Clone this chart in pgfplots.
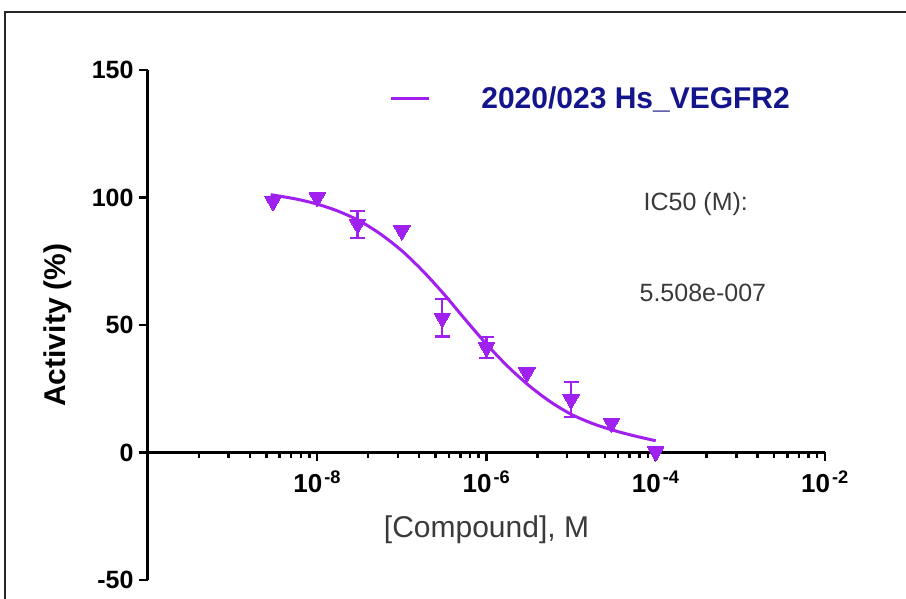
\documentclass[border=0pt]{standalone}
\usepackage{pgfplots}
\pgfplotsset{compat=1.18}
\usepackage{fontspec}
\setmainfont{Liberation Sans}
\definecolor{prismpurple}{HTML}{A020F0}
\definecolor{legnavy}{HTML}{14148C}
\definecolor{txtgrey}{HTML}{3A3A3A}
\begin{document}
\begin{tikzpicture}[x=1pt,y=1pt]
\useasboundingbox (0,0) rectangle (906,599);
\draw[line width=2pt, black!85] (5,-2) -- (5,587) -- (908,587);
\begin{axis}[
  at={(148pt,19pt)}, anchor=south west,
  scale only axis, width=677pt, height=510pt,
  xmode=log, xmin=1e-10, xmax=1e-2, ymin=-50, ymax=150,
  axis x line=middle, axis y line=left,
  axis line style={-, line width=3pt, black},
  hide obscured x ticks=false, hide obscured y ticks=false,
  clip=false,
  tick align=outside,
  major tick length=9pt, minor tick length=5.5pt,
  every tick/.style={line width=2.5pt, black},
  xtick={1e-8,1e-6,1e-4,1e-2},
  xticklabels={\textbf{10}\kern2pt\textsuperscript{\textbf{-8}},
               \textbf{10}\kern2pt\textsuperscript{\textbf{-6}},
               \textbf{10}\kern2pt\textsuperscript{\textbf{-4}},
               \textbf{10}\kern2pt\textsuperscript{\textbf{-2}}},
  minor xtick={4e-10,9e-10,1.6e-9,2.5e-9,3.6e-9,4.9e-9,6.4e-9,8.1e-9,
               4e-8,9e-8,1.6e-7,2.5e-7,3.6e-7,4.9e-7,6.4e-7,8.1e-7,
               4e-6,9e-6,1.6e-5,2.5e-5,3.6e-5,4.9e-5,6.4e-5,8.1e-5,
               4e-4,9e-4,1.6e-3,2.5e-3,3.6e-3,4.9e-3,6.4e-3,8.1e-3},
  xticklabel style={font=\fontsize{26}{30}\selectfont, text=black, yshift=-6pt},
  ytick={-50,0,50,100,150},
  yticklabels={\textbf{-50},\textbf{0},\textbf{50},\textbf{100},\textbf{150}},
  yticklabel style={font=\fontsize{25}{30}\selectfont, text=black, xshift=-2pt},
  xlabel={\relax[Compound], M},
  xlabel style={at={(rel axis cs:0.5,0.098)}, anchor=center,
                font=\fontsize{30}{36}\selectfont, text=txtgrey},
  ylabel={\textbf{Activity (\%)}},
  ylabel style={at={(rel axis cs:-0.133,0.5)}, anchor=center, rotate=0,
                font=\fontsize{30}{36}\selectfont, text=black},
  legend style={at={(rel axis cs:0.357,0.945)}, anchor=west, draw=none, fill=none,
                font=\fontsize{30}{36}\selectfont\bfseries, text=legnavy,
                inner sep=0pt, nodes={inner sep=0pt}},
  legend image code/.code={\draw[line width=3pt] (0pt,0pt) -- (38pt,0pt); \path[draw=none] (0pt,0pt) -- (90pt,0pt);},
  legend cell align=left,
]
% fitted curve
\addplot[prismpurple, line width=3pt, smooth, mark=none] coordinates {
(2.818e-9,101.1) (5.623e-9,99.4) (1e-8,97.4) (1.778e-8,94.6) (3.162e-8,90.8)
(5.623e-8,85.6) (1e-7,79.1) (1.778e-7,71.1) (3.162e-7,62.0) (5.623e-7,52.1)
(1e-6,42.5) (1.778e-6,33.8) (3.162e-6,26.3) (5.623e-6,20.0) (1e-5,15.0)
(1.778e-5,11.4) (3.162e-5,8.7) (5.623e-5,6.5) (1e-4,4.6)
};
\addlegendentry{2020/023 Hs\_VEGFR2}
% error bars (mean +/- error)
\addplot[forget plot, draw=none, mark=none,
  error bars/.cd, y dir=both, y explicit,
  error bar style={line width=2.5pt, prismpurple},
  error mark options={rotate=90, mark size=7.5pt, line width=2.5pt, prismpurple}]
  table[x=x, y=y, y error=e] {
x y e
3e-8 89.5 5.3
3e-7 52.8 7.4
1e-6 41.2 4.1
1e-5 20.8 6.9
};
% data points
\addplot[forget plot, only marks, mark=triangle*, mark size=9.5pt,
  mark options={rotate=180, fill=prismpurple, draw=prismpurple, line width=0pt}]
  table[x=x, y=y] {
x y
3e-9 98.5
1e-8 100.0
3e-8 89.5
1e-7 87.0
3e-7 52.8
1e-6 41.2
3e-6 31.3
1e-5 20.8
3e-5 11.5
1e-4 0.3
};
\node[anchor=west, font=\fontsize{25}{30}\selectfont, text=txtgrey] at (rel axis cs:0.727,0.737) {IC50 (M):};
\node[anchor=west, font=\fontsize{25}{30}\selectfont, text=txtgrey] at (rel axis cs:0.721,0.563) {5.508e-007};
\end{axis}
\end{tikzpicture}
\end{document}
